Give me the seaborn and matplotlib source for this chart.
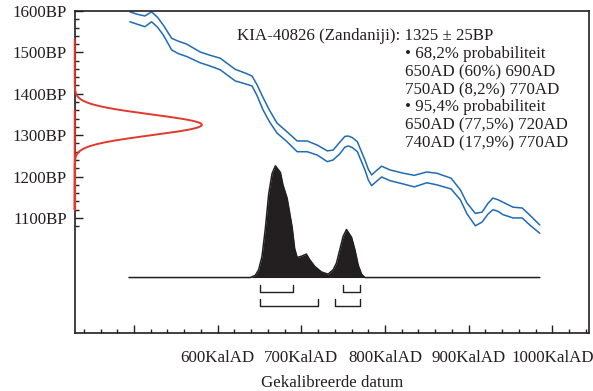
import matplotlib
matplotlib.use("Agg")
import matplotlib.pyplot as plt
from matplotlib.ticker import FixedLocator
import numpy as np
import pandas as pd
import seaborn as sns

# -----------------------------
# Data
# -----------------------------
# calibration curve (cal AD, radiocarbon age BP, 1 sigma BP)
cal_ad = [495, 504, 513, 521, 528, 535, 545, 553, 563, 579, 591, 603, 621, 633,
          641, 647, 654, 662, 671, 683, 695, 707, 719, 731, 738, 746, 752, 756,
          761, 767, 776, 780, 784, 789, 796, 806, 822, 835, 850, 862, 879, 890,
          898, 908, 916, 923, 929, 935, 941, 953, 964, 973, 985]
cal_bp = [1586, 1580, 1575, 1586, 1573, 1554, 1520, 1512, 1505, 1488, 1480, 1472,
          1445, 1437, 1431, 1409, 1377, 1346, 1317, 1296, 1273, 1273, 1264, 1249,
          1252, 1269, 1284, 1286, 1282, 1272, 1228, 1205, 1191, 1200, 1212, 1203,
          1195, 1189, 1198, 1194, 1183, 1156, 1123, 1096, 1102, 1122, 1134, 1130,
          1123, 1113, 1112, 1095, 1073]
cal_sig = [12, 12, 13, 12, 12, 12, 14, 15, 15, 13, 13, 14, 14, 13, 12, 13, 15, 14,
           12, 12, 13, 13, 12, 13, 12, 14, 13, 12, 12, 12, 12, 13, 13, 13, 13, 13,
           13, 14, 13, 14, 13, 12, 13, 15, 12, 13, 14, 14, 15, 13, 12, 12, 10]

# measured date
c14_mean = 1325
c14_sigma = 25

# calibrated probability (relative, peak = 1)
dist_ad = [494, 639, 645, 649, 653, 657, 661, 665, 669, 675, 678, 683, 689, 692,
           695, 700, 706, 710, 716, 724, 732, 738, 742, 746, 750, 754, 760, 764,
           768, 772, 776, 985]
dist_p = [0, 0, 0.02, 0.07, 0.19, 0.44, 0.75, 0.93, 1.0, 0.94, 0.83, 0.71, 0.45,
          0.26, 0.18, 0.19, 0.21, 0.16, 0.10, 0.05, 0.03, 0.07, 0.13, 0.25, 0.37,
          0.43, 0.36, 0.25, 0.11, 0.03, 0, 0]

# probability ranges
range_68 = [(650, 690), (750, 770)]
range_95 = [(650, 720), (740, 770)]

x_major = [500, 600, 700, 800, 900, 1000]
x_labels = ["", "600KalAD", "700KalAD", "800KalAD", "900KalAD", "1000KalAD"]
y_major = [1100, 1200, 1300, 1400, 1500, 1600]
y_labels = ["1100BP", "1200BP", "1300BP", "1400BP", "1500BP", "1600BP"]

info_lines = [
    "KIA-40826 (Zandaniji): 1325 \u00b1 25BP",
    "\u2022 68,2% probabiliteit",
    "650AD (60%) 690AD",
    "750AD (8,2%) 770AD",
    "\u2022 95,4% probabiliteit",
    "650AD (77,5%) 720AD",
    "740AD (17,9%) 770AD",
]

# -----------------------------
# Style
# -----------------------------
sns.set_style("ticks")
plt.rcParams["font.family"] = ["Liberation Serif", "DejaVu Serif"]
FS = 12.2
BLUE = "#1f6cb3"
RED = "#e2392c"
INK = "#231f20"

XMIN, XMAX = 429.1, 1044.2
YMIN, YMAX = 822, 1600

fig = plt.figure(figsize=(5.93, 3.91), dpi=100)
ax = fig.add_axes([74.7 / 593, 1 - 333 / 391, (589.3 - 74.7) / 593, (333 - 11) / 391])

# calibration curve band (two lines)
cal = pd.DataFrame({"ad": cal_ad, "bp": cal_bp, "sig": cal_sig})
cal["upper"] = cal["bp"] + cal["sig"]
cal["lower"] = cal["bp"] - cal["sig"]
sns.lineplot(data=cal, x="ad", y="upper", color=BLUE, lw=1.1, ax=ax)
sns.lineplot(data=cal, x="ad", y="lower", color=BLUE, lw=1.1, ax=ax)

# measured radiocarbon date, drawn on the y axis
g_bp = np.linspace(1064, 1600, 400)
g_amp = 152
g_x = XMIN + g_amp * np.exp(-0.5 * ((g_bp - c14_mean) / c14_sigma) ** 2)
sns.lineplot(x=g_x, y=g_bp, sort=False, color=RED, lw=1.4, ax=ax,
             clip_on=False, zorder=5)

# calibrated distribution
base_bp = 956
scale_bp = 270
dist = pd.DataFrame({"ad": dist_ad, "p": dist_p})
dist["top"] = base_bp + scale_bp * dist["p"]
ax.fill_between(dist["ad"], base_bp, dist["top"], color=INK, lw=0)
sns.lineplot(data=dist, x="ad", y="top", color=INK, lw=1.1, ax=ax)

# range brackets
for ranges, bottom in [(range_68, 922), (range_95, 888)]:
    for lo, hi in ranges:
        ax.plot([lo, lo, hi, hi], [bottom + 16, bottom, bottom, bottom + 16],
                color=INK, lw=1.0)

# axes
ax.set_xlim(XMIN, XMAX)
ax.set_ylim(YMIN, YMAX)
ax.xaxis.set_major_locator(FixedLocator(x_major))
ax.set_xticklabels(x_labels)
ax.xaxis.set_minor_locator(FixedLocator([v for v in range(440, 1041, 20) if v % 100]))
ax.yaxis.set_major_locator(FixedLocator(y_major))
ax.set_yticklabels(y_labels)
ax.yaxis.set_minor_locator(FixedLocator([v for v in range(1080, 1601, 20) if v % 100]))

ax.tick_params(axis="both", which="both", direction="in", colors=INK,
               labelcolor=INK, labelsize=FS, width=1.0)
ax.tick_params(axis="x", which="major", length=6, pad=12.5)
ax.tick_params(axis="y", which="major", length=5.5, pad=5.5)
ax.tick_params(axis="both", which="minor", length=3)

for s in ax.spines.values():
    s.set_visible(True)
    s.set_color(INK)
    s.set_linewidth(1.2)

ax.set_xlabel("Gekalibreerde datum", fontsize=FS, color=INK, labelpad=6)
ax.set_ylabel("")

# info text
line_y = [36, 54, 72, 90, 107, 125, 143]
for i, (txt, yy) in enumerate(zip(info_lines, line_y)):
    xx = 237 if i == 0 else 405
    fig.text(xx / 593, 1 - yy / 391, txt, fontsize=FS, color=INK,
             ha="left", va="center")

fig.savefig("out.png", dpi=100)
